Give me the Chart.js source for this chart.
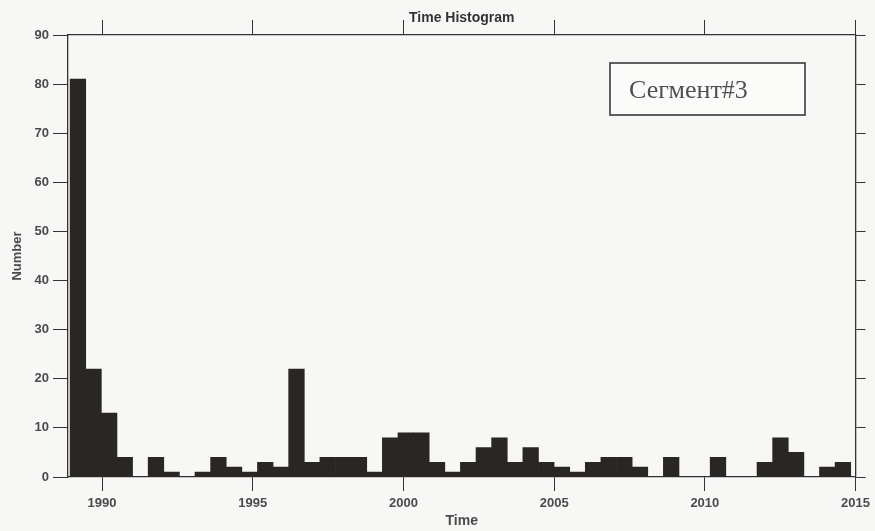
<!DOCTYPE html>
<html>
<head>
<meta charset="utf-8">
<script src="https://cdn.jsdelivr.net/npm/chart.js@4.4.1/dist/chart.umd.min.js"></script>
<style>
  body { margin: 0; background: #f7f7f5; }
  #wrap { width: 875px; height: 531px; position: relative; }
</style>
</head>
<body>
<div id="wrap"><canvas id="chart_1"></canvas></div>
<script>
// histogram bins: first bin edge (years) and bin width
var binStart = 1988.94;
var binWidth = 0.518;
var counts = [81, 22, 13, 4, 0, 4, 1, 0, 1, 4,
              2, 1, 3, 2, 22, 3, 4, 4, 4, 1,
              8, 9, 9, 3, 1, 3, 6, 8, 3, 6,
              3, 2, 1, 3, 4, 4, 2, 0, 4, 0,
              0, 4, 0, 0, 3, 8, 5, 0, 2, 3];

var xMin = 1988.87;
var xMax = 2015;
var yearTicks = [1990, 1995, 2000, 2005, 2010, 2015];
var yMax = 90;
var yStep = 10;

var segmentLabel = 'Сегмент#3';

var textColor = '#4a4a4a';
var axisColor = '#333333';
var barColor = '#2b2626';

// bars sit at the centre of each bin
var points = counts.map(function(c, i) {
  return { x: binStart + binWidth * (i + 0.5), y: c };
});

function setYearTicks(scale) {
  scale.ticks = yearTicks.map(function(v) { return { value: v }; });
}

// framed label in the upper right corner
var segmentBox = {
  id: 'segmentBox',
  afterDraw: function(chart) {
    var ctx = chart.ctx;
    var x = 610, y = 63, w = 195, h = 52;
    ctx.save();
    ctx.fillStyle = '#fbfbfa';
    ctx.fillRect(x, y, w, h);
    ctx.strokeStyle = '#3a3a3a';
    ctx.lineWidth = 1.6;
    ctx.strokeRect(x, y, w, h);
    ctx.fillStyle = '#505050';
    ctx.font = '26px "Liberation Serif", serif';
    ctx.textBaseline = 'middle';
    ctx.fillText(segmentLabel, x + 19, y + h / 2 + 2);
    ctx.restore();
  }
};

var sans = '"Liberation Sans", Arial, sans-serif';
var tickFont = { family: sans, size: 13, weight: 'bold' };
var titleFont = { family: sans, size: 14, weight: 'bold' };

var ctx = document.getElementById('chart_1').getContext('2d');
var chart = new Chart(ctx, {
  type: 'bar',
  data: {
    datasets: [{
      data: points,
      backgroundColor: barColor,
      borderWidth: 0,
      barPercentage: 1,
      categoryPercentage: 1,
      xAxisID: 'x',
      yAxisID: 'y'
    }]
  },
  options: {
    responsive: true,
    maintainAspectRatio: false,
    animation: false,
    layout: { padding: 0 },
    plugins: {
      legend: { display: false },
      tooltip: { enabled: false }
    },
    scales: {
      x: {
        type: 'linear',
        position: 'bottom',
        min: xMin,
        max: xMax,
        offset: false,
        afterBuildTicks: setYearTicks,
        afterFit: function(s) { s.height = 54; },
        grid: { offset: false, drawOnChartArea: false, tickLength: 14, tickColor: axisColor, tickWidth: 1 },
        border: { color: axisColor, width: 1.3 },
        ticks: { color: textColor, font: tickFont, padding: 5, maxRotation: 0,
                 callback: function(v) { return String(v); } },
        title: { display: true, text: 'Time', color: textColor, font: titleFont, padding: { top: 0, bottom: 1 } }
      },
      xTop: {
        type: 'linear',
        position: 'top',
        min: xMin,
        max: xMax,
        offset: false,
        afterBuildTicks: setYearTicks,
        afterFit: function(s) { s.height = 35; },
        grid: { offset: false, drawOnChartArea: false, tickLength: 15, tickColor: axisColor, tickWidth: 1 },
        border: { color: axisColor, width: 1.3 },
        ticks: { display: false },
        title: { display: true, text: 'Time Histogram', color: '#333333', font: titleFont,
                 padding: { top: 10, bottom: 0 } }
      },
      y: {
        type: 'linear',
        position: 'left',
        min: 0,
        max: yMax,
        afterFit: function(s) { s.width = 68; },
        grid: { drawOnChartArea: false, tickLength: 15, tickColor: axisColor, tickWidth: 1 },
        border: { color: axisColor, width: 1.3 },
        ticks: { stepSize: yStep, color: textColor, font: tickFont, padding: 4 },
        title: { display: true, text: 'Number', color: textColor, font: { family: sans, size: 13, weight: 'bold' },
                 padding: { top: 10, bottom: 0 } }
      },
      yRight: {
        type: 'linear',
        position: 'right',
        min: 0,
        max: yMax,
        afterFit: function(s) { s.width = 18; },
        grid: { drawOnChartArea: false, tickLength: 10, tickColor: axisColor, tickWidth: 1 },
        border: { color: axisColor, width: 1.3 },
        ticks: { display: false, stepSize: yStep }
      }
    }
  },
  plugins: [segmentBox]
});
</script>
</body>
</html>
